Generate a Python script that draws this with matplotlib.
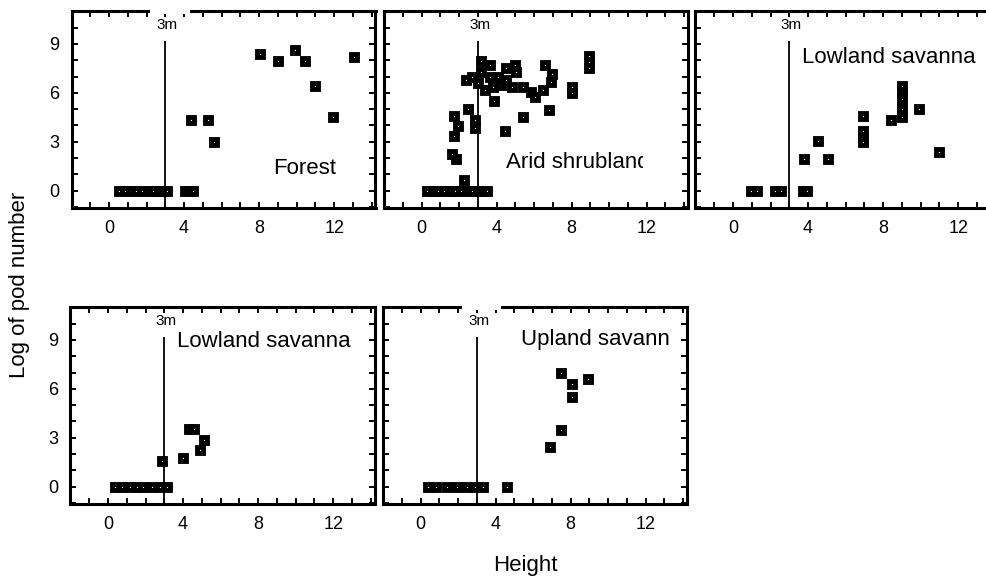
import matplotlib
matplotlib.use("Agg")
import matplotlib.pyplot as plt
from matplotlib.patches import Rectangle
from matplotlib.ticker import MultipleLocator

plt.rcParams['font.family'] = ['Liberation Sans', 'DejaVu Sans']

# ---------------- data ----------------
forest_x = [0.55, 0.85, 1.15, 1.45, 1.75, 2.05, 2.35, 2.65, 2.9, 3.1,
            4.05, 4.25, 4.45,
            4.36, 5.3, 5.6, 8.05, 9.0, 9.92, 10.45, 11.0, 11.93, 13.03]
forest_y = [0, 0, 0, 0, 0, 0, 0, 0, 0, 0,
            0, 0, 0,
            4.34, 4.34, 2.99, 8.39, 7.96, 8.63, 7.96, 6.44, 4.5, 8.18]

arid_x = [0.3, 0.6, 0.9, 1.2, 1.5, 1.8, 2.1, 2.4, 2.7, 3.0, 3.3, 3.5,
          2.26, 1.84, 1.6, 1.72, 1.94, 1.72, 2.47, 2.83, 2.83,
          2.38, 2.68, 3.15, 3.18, 3.0, 3.37, 3.63, 3.63, 3.8, 3.85,
          4.07, 4.25, 4.52, 4.52, 4.82, 4.96, 5.04, 5.4, 5.85, 6.06,
          6.47, 6.56, 6.97, 6.92, 6.77, 5.4, 4.46, 8.02, 8.02,
          8.9, 8.9, 8.9]
arid_y = [0, 0, 0, 0, 0, 0, 0, 0, 0, 0, 0, 0,
          0.67, 1.94, 2.27, 3.33, 3.95, 4.56, 5.0, 4.36, 3.85,
          6.77, 6.97, 7.98, 7.3, 6.6, 6.2, 7.7, 6.97, 6.36, 5.49,
          6.97, 6.5, 6.8, 7.51, 6.36, 7.7, 7.3, 6.36, 6.08, 5.77,
          6.2, 7.7, 7.14, 6.67, 4.97, 4.5, 3.64, 6.34, 5.99,
          8.24, 7.87, 7.51]

lowland1_x = [0.96, 1.28, 2.24, 2.56, 3.75, 3.95,
              3.79, 4.55, 5.08, 6.92, 6.92, 6.92, 6.92, 8.43,
              8.99, 8.99, 8.99, 8.99, 8.99, 9.9, 11.0]
lowland1_y = [0, 0, 0, 0, 0, 0,
              1.94, 3.03, 1.93, 4.56, 3.68, 3.27, 2.97, 4.34,
              4.5, 5.0, 5.63, 6.14, 6.4, 5.0, 2.36]

lowland2_x = [0.37, 0.73, 1.17, 1.53, 1.88, 2.33, 2.77, 3.13,
              2.86, 3.98, 4.3, 4.6, 4.9, 5.1]
lowland2_y = [0, 0, 0, 0, 0, 0, 0, 0,
              1.55, 1.76, 3.56, 3.56, 2.24, 2.86]

upland_x = [0.41, 0.85, 1.39, 1.92, 2.45, 2.9, 3.34, 4.62,
            6.9, 7.48, 7.48, 8.05, 8.05, 8.94]
upland_y = [0, 0, 0, 0, 0, 0, 0, 0,
            2.42, 3.48, 7.0, 6.32, 5.49, 6.58]

x_ticks = [0, 4, 8, 12]
y_ticks = [0, 3, 6, 9]
threshold = 3
threshold_label = "3m"
line_top = 9.2

panels = [
    # name, x, y, label_x, label_y, ylabels, clip_x, gap
    ("Forest", forest_x, forest_y, 8.75, 1.33, True, None, True),
    ("Arid shrubland", arid_x, arid_y, 4.48, 1.7, False, 11.8, False),
    ("Lowland savanna", lowland1_x, lowland1_y, 3.66, 8.18, False, None, False),
    ("Lowland savanna", lowland2_x, lowland2_y, 3.7, 8.9, True, None, False),
    ("Upland savanna", upland_x, upland_y, 5.38, 9.0, False, 13.3, True),
]

W, H = 987, 581
axes_px = [  # left, top (pixels)
    (71.5, 10.6), (384.0, 10.6), (695.5, 10.6),
    (70.5, 306.6), (383.0, 306.6),
]
aw, ah = 304, 197

fig = plt.figure(figsize=(W / 100, H / 100), dpi=100)

for (name, xs, ys, tx, ty, ylab, clipx, gap), (lpx, tpx) in zip(panels, axes_px):
    ax = fig.add_axes([lpx / W, 1 - (tpx + ah) / H, aw / W, ah / H])
    ax.set_xlim(-2, 14.2)
    ax.set_ylim(-1.05, 11.05)
    ax.vlines(threshold, -1.05, line_top, color='black', lw=1.3, zorder=2)
    ax.text(threshold + 0.1, 10.15, threshold_label, ha='center', va='center',
            fontsize=11)
    ax.plot(xs, ys, ls='none', marker='s', ms=5.0, mew=3.5,
            mec='black', mfc='white', zorder=3, clip_on=False)
    t = ax.text(tx, ty, name, ha='left', va='center', fontsize=16)
    if clipx is not None:
        r = Rectangle((-2, -1.05), clipx + 2, 12.1, transform=ax.transData)
        t.set_clip_on(True)
        t.set_clip_path(r)
    ax.set_xticks(x_ticks)
    ax.set_yticks(y_ticks)
    ax.xaxis.set_minor_locator(MultipleLocator(1))
    ax.yaxis.set_minor_locator(MultipleLocator(1))
    ax.tick_params(which='both', direction='in', top=True, right=True,
                   length=4, width=1.4)
    ax.tick_params(axis='x', labelsize=13, pad=9)
    ax.tick_params(axis='y', labelsize=13, pad=9)
    if not ylab:
        ax.set_yticklabels([])
    for s in ax.spines.values():
        s.set_linewidth(2.2)
    if gap:
        ax.add_patch(Rectangle((2.2, 10.85), 2.1, 0.4, facecolor='white',
                               edgecolor='none', zorder=10, clip_on=False))

fig.text(20 / W, 1 - 285 / H, "Log of pod number", rotation=90,
         ha='center', va='center', fontsize=16)
fig.text(525 / W, 1 - 565 / H, "Height", ha='center', va='center', fontsize=16)

fig.savefig("out.png", dpi=100)
